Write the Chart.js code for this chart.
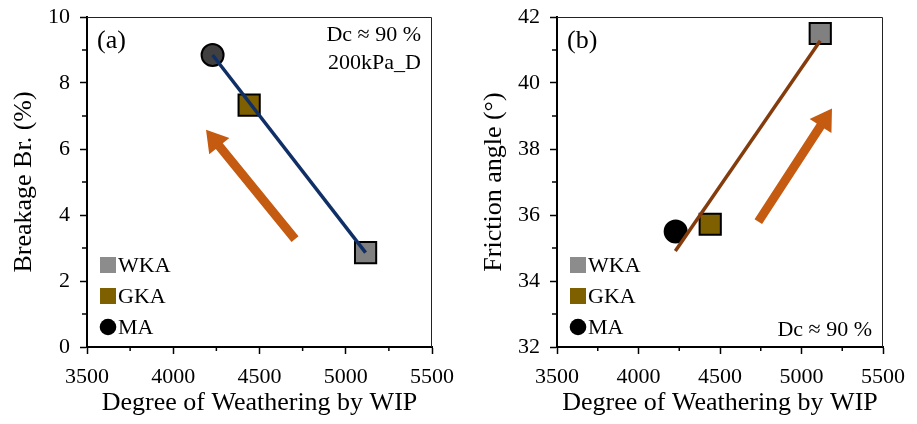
<!DOCTYPE html>
<html><head><meta charset="utf-8">
<script src="https://cdn.jsdelivr.net/npm/chart.js@4.4.1/dist/chart.umd.min.js"></script>
<style>
html,body{margin:0;padding:0;background:#fff;}
#wrap{position:relative;width:917px;height:424px;overflow:hidden;background:#fff;}
#ca{position:absolute;left:0;top:0;}
#cb{position:absolute;left:470px;top:0;}
</style></head><body>
<div id="wrap"><canvas id="ca" width="462" height="424"></canvas><canvas id="cb" width="447" height="424"></canvas></div>
<script>
// ---- data ----
const categories = ['WKA', 'GKA', 'MA'];
const wipValues = [5115, 4440, 4228];
const breakageValues = [2.86, 7.33, 8.85];
const frictionValues = [41.5, 35.72, 35.5];
const breakageTrendX = [4228, 5115];
const breakageTrendY = [8.85, 2.86];
const frictionTrendX = [4226, 5115];
const frictionTrendY = [34.91, 41.28];
const breakageArrowX = [4706, 4190];
const breakageArrowY = [3.27, 6.58];
const frictionArrowX = [4735, 5187];
const frictionArrowY = [35.8, 39.23];
const xTickLabels = ['3500', '4000', '4500', '5000', '5500'];
const breakageTickLabels = ['0', '2', '4', '6', '8', '10'];
const frictionTickLabels = ['32', '34', '36', '38', '40', '42'];

// ---- styles ----
const FONT = '"Liberation Serif", "Times New Roman", serif';
const markerStyles = ['rect', 'rect', 'circle'];
const markerRadii = [15, 15, 11];
const fillA = ['#808080', '#7F6000', '#404040'];
const fillB = ['#808080', '#7F6000', '#000000'];
const legendFill = ['#8C8C8C', '#7F6000', '#000000'];

function pts(xs, ys) { return xs.map((x, i) => ({x: x, y: ys[i]})); }

const decor = {
  id: 'decor',
  beforeDatasetsDraw(chart, args, o) {
    const ctx = chart.ctx, xs = chart.scales.x, ys = chart.scales.y;
    const x0 = xs.getPixelForValue(o.arrowX[0]), y0 = ys.getPixelForValue(o.arrowY[0]);
    const x1 = xs.getPixelForValue(o.arrowX[1]), y1 = ys.getPixelForValue(o.arrowY[1]);
    const dx = x1 - x0, dy = y1 - y0, L = Math.hypot(dx, dy);
    const ux = dx / L, uy = dy / L, px = -uy, py = ux;
    const headL = 21, headW = 13, shaft = 4.5;
    const bx = x1 - ux * headL, by = y1 - uy * headL;
    ctx.save();
    ctx.fillStyle = '#C55A11';
    ctx.beginPath();
    ctx.moveTo(x0 + px * shaft, y0 + py * shaft);
    ctx.lineTo(bx + px * shaft, by + py * shaft);
    ctx.lineTo(bx + px * headW, by + py * headW);
    ctx.lineTo(x1, y1);
    ctx.lineTo(bx - px * headW, by - py * headW);
    ctx.lineTo(bx - px * shaft, by - py * shaft);
    ctx.lineTo(x0 - px * shaft, y0 - py * shaft);
    ctx.closePath();
    ctx.fill();
    ctx.restore();
  },
  afterDraw(chart, args, o) {
    const ctx = chart.ctx, a = chart.chartArea;
    ctx.save();
    // top/right frame
    ctx.strokeStyle = '#222';
    ctx.lineWidth = 1;
    ctx.beginPath();
    ctx.moveTo(a.left, a.top + 0.5);
    ctx.lineTo(a.right - 0.5, a.top + 0.5);
    ctx.lineTo(a.right - 0.5, a.bottom);
    ctx.stroke();
    // minor ticks
    ctx.strokeStyle = '#000';
    ctx.lineWidth = 1.5;
    const xs = chart.scales.x, ys = chart.scales.y;
    xs.ticks.forEach(t => {
      if (t.label === '') {
        const p = xs.getPixelForValue(t.value);
        ctx.beginPath(); ctx.moveTo(p, a.bottom); ctx.lineTo(p, a.bottom + 4); ctx.stroke();
      }
    });
    ys.ticks.forEach(t => {
      if (t.label === '') {
        const p = ys.getPixelForValue(t.value);
        ctx.beginPath(); ctx.moveTo(a.left, p); ctx.lineTo(a.left - 5, p); ctx.stroke();
      }
    });
    // legend
    ctx.textBaseline = 'middle';
    ctx.textAlign = 'left';
    ctx.font = '22px ' + FONT;
    const rows = [a.bottom - 82, a.bottom - 51, a.bottom - 20];
    categories.forEach((c, i) => {
      const cy = rows[i];
      ctx.fillStyle = legendFill[i];
      if (markerStyles[i] === 'circle') {
        ctx.beginPath(); ctx.arc(a.left + 21, cy, 8.3, 0, Math.PI * 2); ctx.fill();
      } else {
        ctx.fillRect(a.left + 13, cy - 8, 16, 16);
      }
      ctx.fillStyle = '#000';
      ctx.fillText(c, a.left + 31, cy + 1);
    });
    // panel label
    ctx.font = '26px ' + FONT;
    ctx.fillText(o.panel, a.left + 10, a.top + 24);
    // notes
    ctx.font = '22px ' + FONT;
    ctx.textAlign = 'right';
    o.notes.forEach(n => {
      const y = n.fromBottom ? a.bottom - n.dy : a.top + n.dy;
      ctx.fillText(n.text, a.right - 11, y);
    });
    ctx.restore();
  }
};

function makeChart(id, cfg) {
  const tickFont = {family: FONT, size: 22};
  const titleFont = {family: FONT, size: 26};
  return new Chart(document.getElementById(id), {
    data: {
      datasets: [
        {
          type: 'line',
          data: pts(cfg.trendX, cfg.trendY),
          borderColor: cfg.trendColor,
          borderWidth: 3.5,
          pointRadius: 0,
          fill: false,
          order: 0
        },
        {
          type: 'scatter',
          data: pts(wipValues, cfg.values),
          pointStyle: markerStyles,
          pointRadius: markerRadii,
          pointBackgroundColor: cfg.fills,
          pointBorderColor: '#000',
          pointBorderWidth: 2,
          order: 1
        }
      ]
    },
    options: {
      responsive: false,
      animation: false,
      events: [],
      layout: {padding: {top: 17, right: cfg.padRight, left: 0, bottom: 0}},
      plugins: {
        legend: {display: false},
        tooltip: {enabled: false},
        decor: {arrowX: cfg.arrowX, arrowY: cfg.arrowY, panel: cfg.panel, notes: cfg.notes}
      },
      scales: {
        x: {
          type: 'linear', min: 3500, max: 5500,
          afterFit: s => { s.height = 77; s.paddingLeft = 0; s.paddingRight = 0; },
          border: {color: '#000', width: 2},
          grid: {drawOnChartArea: false, drawTicks: true, tickLength: 7,
                 tickColor: c => (c.tick && c.tick.label !== '') ? '#000' : 'rgba(0,0,0,0)', tickWidth: 1.5},
          ticks: {stepSize: 250, autoSkip: false, maxRotation: 0, padding: 10, color: '#000', font: tickFont,
                  callback: v => xTickLabels.includes(String(v)) ? String(v) : ''},
          title: {display: true, text: 'Degree of Weathering by WIP', color: '#000', font: titleFont,
                  padding: {top: 0, bottom: 5}}
        },
        y: {
          type: 'linear', min: cfg.yMin, max: cfg.yMax,
          afterFit: s => { s.width = 87; s.paddingTop = 0; s.paddingBottom = 0; },
          border: {color: '#000', width: 2},
          grid: {drawOnChartArea: false, drawTicks: true, tickLength: 7,
                 tickColor: c => (c.tick && c.tick.label !== '') ? '#000' : 'rgba(0,0,0,0)', tickWidth: 1.5},
          ticks: {stepSize: 1, autoSkip: false, padding: 10, color: '#000', font: tickFont,
                  callback: v => cfg.tickLabels.includes(String(v)) ? String(v) : ''},
          title: {display: true, text: cfg.yTitle, color: '#000', font: titleFont,
                  padding: {top: 9, bottom: 0}}
        }
      }
    },
    plugins: [decor]
  });
}

makeChart('ca', {
  values: breakageValues, fills: fillA,
  trendX: breakageTrendX, trendY: breakageTrendY, trendColor: '#102F66',
  arrowX: breakageArrowX, arrowY: breakageArrowY,
  yMin: 0, yMax: 10, tickLabels: breakageTickLabels, yTitle: 'Breakage Br. (%)',
  padRight: 30, panel: '(a)',
  notes: [{text: 'Dc \u2248 90 %', dy: 18}, {text: '200kPa_D', dy: 46}]
});
makeChart('cb', {
  values: frictionValues, fills: fillB,
  trendX: frictionTrendX, trendY: frictionTrendY, trendColor: '#843C0C',
  arrowX: frictionArrowX, arrowY: frictionArrowY,
  yMin: 32, yMax: 42, tickLabels: frictionTickLabels, yTitle: 'Friction angle (\u00B0)',
  padRight: 34, panel: '(b)',
  notes: [{text: 'Dc \u2248 90 %', dy: 17, fromBottom: true}]
});
</script>
</body></html>
